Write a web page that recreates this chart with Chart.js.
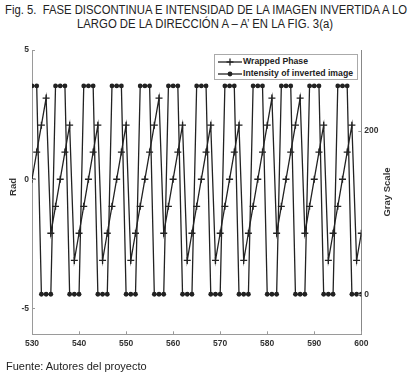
<!DOCTYPE html>
<html>
<head>
<meta charset="utf-8">
<script src="https://cdn.jsdelivr.net/npm/chart.js@4.4.1/dist/chart.umd.min.js"></script>
<style>
  body { margin: 0; width: 411px; height: 379px; background: #fff; position: relative; overflow: hidden; }
  .tline { position: absolute; left: 0; width: 411px; height: 14px; color: #222; white-space: nowrap;
           font: 12.5px/14px "Liberation Sans", sans-serif; }
  .tline span { position: absolute; top: 0; display: inline-block; transform-origin: center; }
  #chart { position: absolute; left: 0; top: 0; }
  #legend { position: absolute; left: 214px; top: 54px; width: 142px; height: 24px; background: #fff;
            border: 1px solid #aaa; font: bold 8.7px "Liberation Sans", sans-serif; color: #222; }
  #legend .row { position: absolute; left: 3px; height: 12px; line-height: 12px; white-space: nowrap; }
  #legend svg { vertical-align: middle; margin-right: 1px; }
  .axtitle { position: absolute; width: 100px; height: 12px; line-height: 12px; text-align: center;
             font: bold 9.5px "Liberation Sans", sans-serif; color: #333; transform: rotate(-90deg); transform-origin: center; }
  #source { position: absolute; left: 6px; top: 360px; font: 11px "Liberation Sans", sans-serif; color: #222; }
</style>
</head>
<body>
<div class="tline" style="top:3px"><span data-w="402" data-c="206">Fig. 5.&nbsp; FASE DISCONTINUA E INTENSIDAD DE LA IMAGEN INVERTIDA A LO</span></div>
<div class="tline" style="top:16.5px"><span data-w="256" data-c="205">LARGO DE LA DIRECCIÓN A – A’ EN LA FIG. 3(a)</span></div>
<canvas id="chart" width="411" height="379"></canvas>
<div id="legend">
  <div class="row" style="top:0px"><svg width="24" height="8"><line x1="0" y1="4" x2="24" y2="4" stroke="#222" stroke-width="1.3"/><line x1="12" y1="0.5" x2="12" y2="7.5" stroke="#222" stroke-width="1.3"/><line x1="8.5" y1="4" x2="15.5" y2="4" stroke="#222" stroke-width="1.3"/></svg>Wrapped Phase</div>
  <div class="row" style="top:12px"><svg width="24" height="8"><line x1="0" y1="4" x2="24" y2="4" stroke="#222" stroke-width="1.3"/><circle cx="12" cy="4" r="2.4" fill="#222"/></svg>Intensity of inverted image</div>
</div>
<div class="axtitle" style="left:-37px; top:181px">Rad</div>
<div class="axtitle" style="left:337px; top:186px">Gray Scale</div>
<div id="source">Fuente: Autores del proyecto</div>
<script>
// pixel position along A - A'
const positions = [
  530, 531, 532, 533, 534, 535, 536, 537, 538, 539,
  540, 541, 542, 543, 544, 545, 546, 547, 548, 549,
  550, 551, 552, 553, 554, 555, 556, 557, 558, 559,
  560, 561, 562, 563, 564, 565, 566, 567, 568, 569,
  570, 571, 572, 573, 574, 575, 576, 577, 578, 579,
  580, 581, 582, 583, 584, 585, 586, 587, 588, 589,
  590, 591, 592, 593, 594, 595, 596, 597, 598, 599, 600
];

// wrapped phase (rad)
const wrappedPhase = [
  0, 1.05, 2.09, 3.14, -2.09, -1.05,
  0, 1.05, 2.09, -3.14, -2.09, -1.05,
  0, 1.05, 2.09, -3.14, -2.09, -1.05,
  0, 1.05, 2.09, -3.14, -2.09, -1.05,
  0, 1.05, 2.09, 3.14, -2.09, -1.05,
  0, 1.05, 2.09, -3.14, -2.09, -1.05,
  0, 1.05, 2.09, -3.14, -2.09, -1.05,
  0, 1.05, 2.09, -3.14, -2.09, -1.05,
  0, 1.05, 2.09, 3.14, -2.09, -1.05,
  0, 1.05, 2.09, 3.14, -2.09, -1.05,
  0, 1.05, 2.09, -3.14, -2.09, -1.05,
  0, 1.05, 2.09, -3.14, -2.09
];

// gray level of the inverted image
const intensity = [
  255, 255, 0, 0, 0, 255,
  255, 255, 0, 0, 0, 255,
  255, 255, 0, 0, 0, 255,
  255, 255, 0, 0, 0, 255,
  255, 255, 0, 0, 0, 255,
  255, 255, 0, 0, 0, 255,
  255, 255, 0, 0, 0, 255,
  255, 255, 0, 0, 0, 255,
  255, 255, 0, 0, 0, 255,
  255, 255, 0, 0, 0, 255,
  255, 255, 0, 0, 0, 255,
  255, 255, 0, 0, 0
];

const radTicks = [-5, 0, 5];
const grayTicks = [0, 200];

const tickFont = { family: "Liberation Sans", size: 8.5, weight: "bold" };
const axisColor = "#9a9a9a";

// squeeze title lines to the condensed width of the original
document.querySelectorAll(".tline span").forEach((s) => {
  const k = Number(s.dataset.w) / s.offsetWidth;
  s.style.left = s.dataset.c + "px";
  s.style.transform = "translateX(-50%) scaleX(" + k + ")";
});

// small inward tick marks like the original figure
const inwardTicks = {
  id: "inwardTicks",
  afterDraw(chart) {
    const ctx = chart.ctx;
    const a = chart.chartArea;
    ctx.save();
    ctx.strokeStyle = axisColor;
    ctx.lineWidth = 1;
    chart.scales.x.ticks.forEach((t) => {
      const px = Math.round(chart.scales.x.getPixelForValue(t.value)) + 0.5;
      ctx.beginPath(); ctx.moveTo(px, a.bottom); ctx.lineTo(px, a.bottom - 3); ctx.stroke();
    });
    chart.scales.y.ticks.forEach((t) => {
      const py = Math.round(chart.scales.y.getPixelForValue(t.value)) + 0.5;
      ctx.beginPath(); ctx.moveTo(a.left, py); ctx.lineTo(a.left + 3, py); ctx.stroke();
    });
    chart.scales.y1.ticks.forEach((t) => {
      const py = Math.round(chart.scales.y1.getPixelForValue(t.value)) + 0.5;
      ctx.beginPath(); ctx.moveTo(a.right, py); ctx.lineTo(a.right - 3, py); ctx.stroke();
    });
    ctx.restore();
  }
};

new Chart(document.getElementById("chart"), {
  type: "line",
  data: {
    datasets: [
      {
        label: "Wrapped Phase",
        data: positions.map((x, i) => ({ x: x, y: wrappedPhase[i] })),
        yAxisID: "y",
        borderColor: "#222",
        borderWidth: 1.3,
        pointStyle: "cross",
        pointRadius: 3.5,
        pointBorderWidth: 1.3,
        pointBorderColor: "#222",
        tension: 0
      },
      {
        label: "Intensity of inverted image",
        data: positions.map((x, i) => ({ x: x, y: intensity[i] })),
        yAxisID: "y1",
        borderColor: "#222",
        borderWidth: 1.3,
        pointStyle: "circle",
        pointRadius: 2.4,
        pointBackgroundColor: "#222",
        pointBorderColor: "#222",
        pointBorderWidth: 0,
        tension: 0
      }
    ]
  },
  options: {
    responsive: false,
    animation: false,
    layout: { padding: { top: 50, left: 0, right: 0, bottom: 24.7 } },
    plugins: { legend: { display: false }, tooltip: { enabled: false } },
    scales: {
      x: {
        type: "linear",
        min: 530,
        max: 600,
        ticks: { stepSize: 10, font: tickFont, color: "#333", padding: 4, maxRotation: 0 },
        grid: { drawOnChartArea: false, drawTicks: false },
        border: { color: axisColor },
        afterFit(s) { s.height = 20; }
      },
      y: {
        position: "left",
        min: -6,
        max: 5,
        afterBuildTicks(s) { s.ticks = radTicks.map((v) => ({ value: v })); },
        ticks: { font: tickFont, color: "#333", padding: 3 },
        grid: { drawOnChartArea: false, drawTicks: false },
        border: { color: axisColor },
        afterFit(s) { s.width = 32; }
      },
      y1: {
        position: "right",
        min: -49,
        max: 299,
        afterBuildTicks(s) { s.ticks = grayTicks.map((v) => ({ value: v })); },
        ticks: { font: tickFont, color: "#333", padding: 3 },
        grid: { drawOnChartArea: false, drawTicks: false },
        border: { color: "#888" },
        afterFit(s) { s.width = 411 - 361.3; }
      }
    }
  },
  plugins: [inwardTicks]
});
</script>
</body>
</html>
